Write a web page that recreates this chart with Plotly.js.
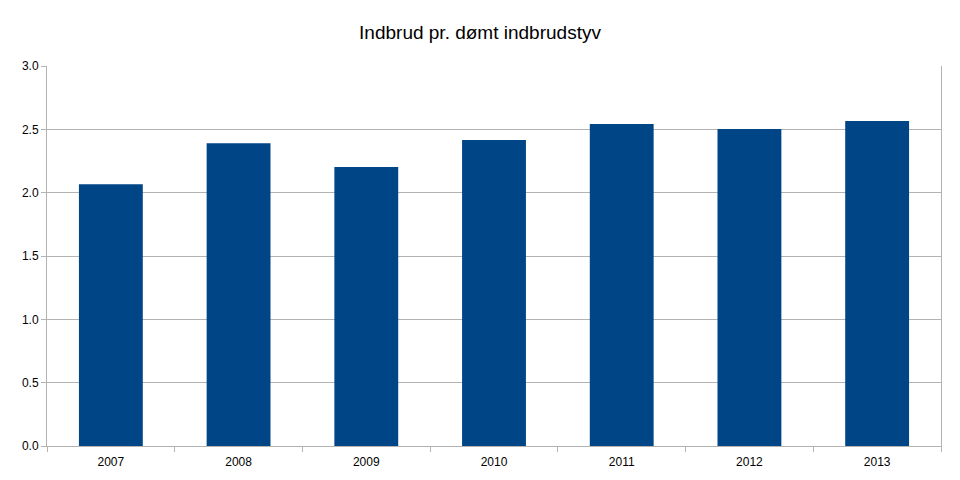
<!DOCTYPE html>
<html>
<head>
<meta charset="utf-8">
<script src="https://cdn.plot.ly/plotly-3.0.1.min.js"></script>
<style>html,body{margin:0;padding:0;background:#fff;}#chart{width:960px;height:480px;}</style>
</head>
<body>
<div id="chart"></div>
<script>
var years = ["2007", "2008", "2009", "2010", "2011", "2012", "2013"];
var values = [2.066, 2.39, 2.203, 2.416, 2.542, 2.503, 2.566];
var yTicks = [0, 0.5, 1, 1.5, 2, 2.5, 3];
var yTickLabels = ["0.0", "0.5", "1.0", "1.5", "2.0", "2.5", "3.0"];

var trace = {
  type: "bar",
  x: years,
  y: values,
  marker: {color: "#004586", line: {width: 0}},
  hoverinfo: "x+y"
};

var layout = {
  width: 960,
  height: 480,
  margin: {l: 47, r: 19, t: 66, b: 34},
  paper_bgcolor: "#ffffff",
  plot_bgcolor: "#ffffff",
  font: {family: "Liberation Sans, Arial, sans-serif", color: "#000000", size: 12},
  title: {
    text: "Indbrud pr. dømt indbrudstyv",
    font: {size: 19, color: "#000000"},
    x: 0.5,
    xanchor: "center",
    y: 0.933,
    yanchor: "middle"
  },
  bargap: 0.5,
  showlegend: false,
  xaxis: {
    type: "category",
    showgrid: false,
    showline: true,
    linecolor: "#b3b3b3",
    linewidth: 1,
    ticks: "outside",
    tickson: "boundaries",
    ticklen: 5,
    tickcolor: "#b3b3b3",
    ticklabelstandoff: 5,
    tickfont: {size: 12},
    zeroline: false
  },
  yaxis: {
    range: [0, 3],
    tickvals: yTicks,
    ticktext: yTickLabels,
    showgrid: true,
    gridcolor: "#b3b3b3",
    gridwidth: 1,
    showline: true,
    linecolor: "#b3b3b3",
    linewidth: 1,
    mirror: true,
    ticks: "outside",
    ticklen: 5,
    tickcolor: "#b3b3b3",
    tickfont: {size: 12},
    zeroline: false
  }
};

Plotly.newPlot("chart", [trace], layout, {displayModeBar: false, staticPlot: true});
</script>
</body>
</html>
